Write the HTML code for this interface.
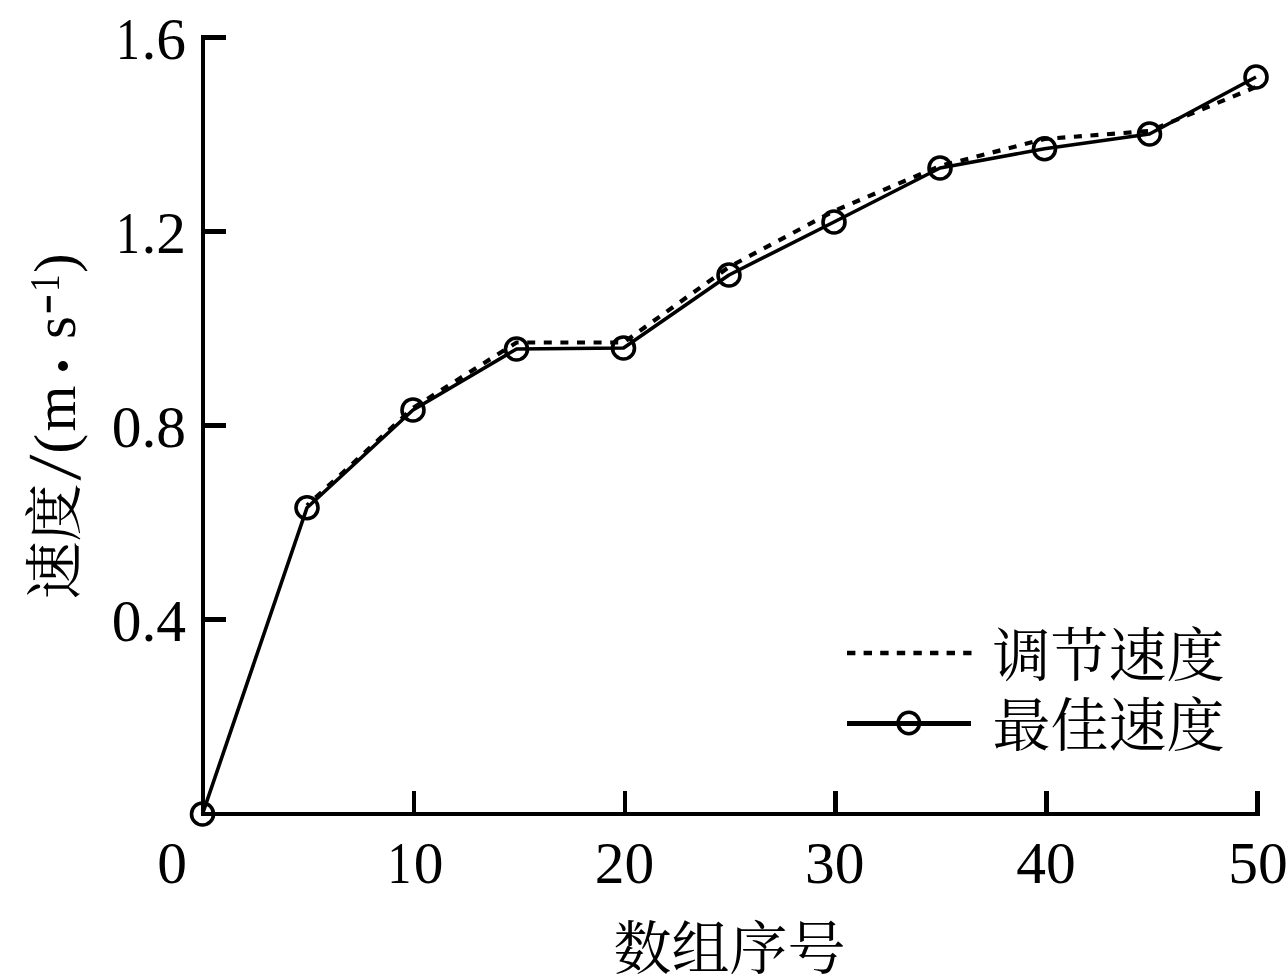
<!DOCTYPE html>
<html lang="zh-CN">
<head>
<meta charset="utf-8">
<title>速度曲线</title>
<style>
  html, body { margin: 0; padding: 0; background: #fff; }
  body { width: 1287px; height: 977px; overflow: hidden; position: relative; }
  svg { position: absolute; left: 0; top: 0; display: block; }
  .num { font-family: "Liberation Serif", "Noto Serif CJK SC", serif; font-size: 59.5px; fill: #000; }
  .cjk { font-family: "Liberation Serif", "Noto Serif CJK SC", serif; font-size: 58px; fill: #000; }
  .yl { font-size: 59px; }
  .ax { stroke: #000; fill: none; shape-rendering: crispEdges; }
  .ln { stroke: #000; fill: none; }
</style>
</head>
<body>
<svg width="1287" height="977" viewBox="0 0 1287 977">
  <rect x="0" y="0" width="1287" height="977" fill="#ffffff"/>

  <!-- axes -->
  <g class="ax">
    <rect x="201" y="35" width="4" height="781" fill="#000" stroke="none"/>
    <rect x="201" y="812" width="1059" height="4" fill="#000" stroke="none"/>
    <!-- y ticks -->
    <rect x="201" y="35" width="25" height="5" fill="#000" stroke="none"/>
    <rect x="201" y="229" width="25" height="5" fill="#000" stroke="none"/>
    <rect x="201" y="423" width="25" height="5" fill="#000" stroke="none"/>
    <rect x="201" y="617" width="25" height="5" fill="#000" stroke="none"/>
    <!-- x ticks -->
    <rect x="412" y="791" width="4" height="25" fill="#000" stroke="none"/>
    <rect x="623" y="791" width="4" height="25" fill="#000" stroke="none"/>
    <rect x="833" y="791" width="5" height="25" fill="#000" stroke="none"/>
    <rect x="1044" y="791" width="5" height="25" fill="#000" stroke="none"/>
    <rect x="1255" y="791" width="5" height="25" fill="#000" stroke="none"/>
  </g>

  <!-- dashed series -->
  <polyline class="ln" stroke-width="4.2" stroke-dasharray="8 8.6" stroke-dashoffset="5"
    points="307,505.5 413,408 516.5,342.5 623.5,342.5 729,267 834,211 940,166 1044.5,139 1149.5,131 1256,87"/>

  <!-- solid series -->
  <polyline class="ln" stroke-width="3.6" stroke-linejoin="round"
    points="202.5,814 307,507.7 413,410 516.5,349 623.5,348 729,275 834,222 940,168 1044.5,148.7 1149.5,134 1256,77"/>

  <!-- markers -->
  <g class="ln" stroke-width="3.6">
    <circle cx="202.5" cy="814" r="11"/>
    <circle cx="307" cy="507.7" r="11"/>
    <circle cx="413" cy="410" r="11"/>
    <circle cx="516.5" cy="349" r="11"/>
    <circle cx="623.5" cy="348" r="11"/>
    <circle cx="729" cy="275" r="11"/>
    <circle cx="834" cy="222" r="11"/>
    <circle cx="940" cy="168" r="11"/>
    <circle cx="1044.5" cy="148.7" r="11"/>
    <circle cx="1149.5" cy="134" r="11"/>
    <circle cx="1256" cy="77" r="11"/>
  </g>

  <!-- legend -->
  <line class="ln" x1="847" y1="653" x2="971.5" y2="653" stroke-width="4.4" stroke-dasharray="8.4 8.2"/>
  <line class="ln" x1="847" y1="723.5" x2="971" y2="723.5" stroke-width="5"/>
  <circle class="ln" cx="908.8" cy="723" r="10.7" stroke-width="3.6"/>
  <text class="cjk" x="992.5" y="675.5">调节速度</text>
  <text class="cjk" x="992.5" y="746">最佳速度</text>

  <!-- y tick labels -->
  <g class="num" text-anchor="end">
    <g transform="translate(128,58.5) scale(0.8,1)"><text text-anchor="middle" x="0" y="0">1</text></g><text x="186" y="58.5">.6</text>
    <g transform="translate(128,253) scale(0.8,1)"><text text-anchor="middle" x="0" y="0">1</text></g><text x="186" y="253">.2</text>
    <text x="186" y="446.6">0.8</text>
    <text x="186" y="640.6">0.4</text>
  </g>
  <!-- x tick labels -->
  <g class="num" text-anchor="middle">
    <text x="172" y="883.2">0</text>
    <g transform="translate(399.5,883.2) scale(0.8,1)"><text x="0" y="0">1</text></g><text x="428.7" y="883.2">0</text>
    <text x="624.5" y="883.2">20</text>
    <text x="834.8" y="883.2">30</text>
    <text x="1046" y="883.2">40</text>
    <text x="1258" y="883.2">50</text>
  </g>

  <!-- x axis title -->
  <text class="cjk" x="613.5" y="969">数组序号</text>

  <!-- y axis title (rotated) -->
  <g transform="translate(75,599.5) rotate(-90)">
    <text class="cjk" x="0" y="0">速度</text>
    <g transform="translate(132,-20) scale(1.29,1.29) skewX(-5.5)"><text class="num yl" text-anchor="middle" x="0" y="19.5">/</text></g>
    <text class="num yl" x="146" y="0">(</text>
    <text class="num yl" x="168" y="0">m</text>
    <g transform="translate(233.4,-12.1)"><text class="num yl" text-anchor="middle" x="0" y="27.8" style="font-size:84px">·</text></g>
    <text class="num yl" x="260.6" y="0">s</text>
    <g transform="translate(295.3,-26.6) scale(0.83,1.9)"><text class="num yl" text-anchor="middle" x="0" y="14" style="font-size:42px">−</text></g>
    <g transform="translate(316.25,-16) scale(0.8,1)"><text class="num yl" text-anchor="middle" x="0" y="0" style="font-size:43px">1</text></g>
    <text class="num yl" x="326.5" y="0">)</text>
  </g>
</svg>
</body>
</html>
